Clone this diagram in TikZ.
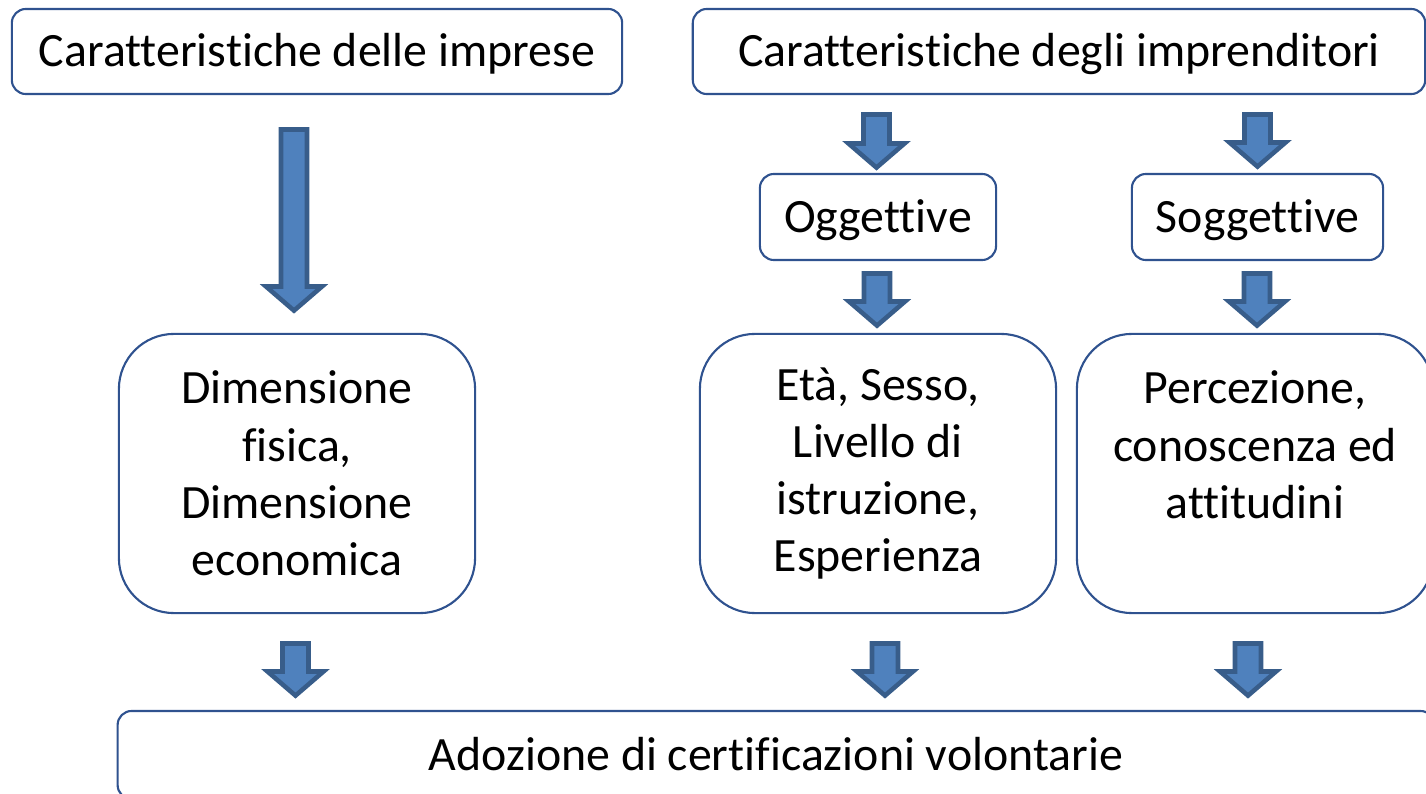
\documentclass[tikz,border=0pt]{standalone}
\usepackage{fontspec}
\setmainfont[Ligatures=NoCommon]{Carlito}
\usetikzlibrary{positioning, calc}
\usepackage{xcolor}
\definecolor{arrowfill}{HTML}{4F81BD}
\definecolor{arrowedge}{HTML}{385D8A}
\definecolor{boxedge}{HTML}{2F528F}

% fat block arrow from top point #1 down to tip #2 (in px units)
\newcommand{\fatarrow}[2]{%
  \draw [blockarrow] ($(#1)+(-13,2.5)$) -- ($(#2)+(-13,-27.5)$) -- ($(#2)+(-28,-27.5)$)
    -- ($(#2)+(0,-3.4)$) -- ($(#2)+(28,-27.5)$) -- ($(#2)+(13,-27.5)$)
    -- ($(#1)+(13,2.5)$) -- cycle;}

\begin{document}
\begin{tikzpicture}[
        x=0.01cm, y=-0.01cm,
        box/.style={rectangle, draw=boxedge, line width=0.6pt, rounded corners=0.14cm, inner sep=0pt, align=center, font=\fontsize{13.6}{16.3}\selectfont},
        onebox/.style={box, text height=8.7pt, text depth=0pt},
        bigbox/.style={box, rounded corners=0.55cm, minimum width=3.56cm, minimum height=2.79cm},
        blockarrow/.style={draw=arrowedge, fill=arrowfill, line width=1.3pt, line join=miter}
    ]
        \useasboundingbox (0,0) rectangle (1426,794);

        \node [onebox, minimum width=6.10cm, minimum height=0.85cm] (imprese) at (317,51.5) {Caratteristiche delle imprese};
        \node [onebox, minimum width=7.32cm, minimum height=0.85cm] (imprenditori) at (1059,51.5) {Caratteristiche degli imprenditori};

        \node [onebox, minimum width=2.36cm, minimum height=0.86cm] (ogg) at (878,217) {Oggettive};
        \node [onebox, minimum width=2.51cm, minimum height=0.86cm] (sogg) at (1257.5,217) {Soggettive};

        \node [bigbox] (dim) at (297,473.5) {Dimensione\\fisica,\\Dimensione\\economica};
        \node [bigbox] (eta) at (878,473.5) {Età, Sesso,\\Livello di\\istruzione,\\Esperienza};
        \node [bigbox] (perc) at (1255,473.5) {Percezione,\\conoscenza ed\\attitudini\\\mbox{}};

        \node [onebox, minimum width=13.16cm, minimum height=0.88cm] (adozione) at (776,755) {Adozione di certificazioni volontarie};

        % arrow ends
        \coordinate (arr1a) at (294,127);    \coordinate (arr1b) at (294,314);
        \coordinate (arr2a) at (876.5,112);  \coordinate (arr2b) at (876.5,171);
        \coordinate (arr3a) at (1257.5,112); \coordinate (arr3b) at (1257.5,170);
        \coordinate (arr4a) at (877,271);    \coordinate (arr4b) at (877,329);
        \coordinate (arr5a) at (1257,271);   \coordinate (arr5b) at (1257,329);
        \coordinate (arr6a) at (295.5,641);  \coordinate (arr6b) at (295.5,699);
        \coordinate (arr7a) at (885,641);    \coordinate (arr7b) at (885,699);
        \coordinate (arr8a) at (1248,641);   \coordinate (arr8b) at (1248,699);

        \fatarrow{arr1a}{arr1b}
        \fatarrow{arr2a}{arr2b}
        \fatarrow{arr3a}{arr3b}
        \fatarrow{arr4a}{arr4b}
        \fatarrow{arr5a}{arr5b}
        \fatarrow{arr6a}{arr6b}
        \fatarrow{arr7a}{arr7b}
        \fatarrow{arr8a}{arr8b}

    \end{tikzpicture}
\end{document}
